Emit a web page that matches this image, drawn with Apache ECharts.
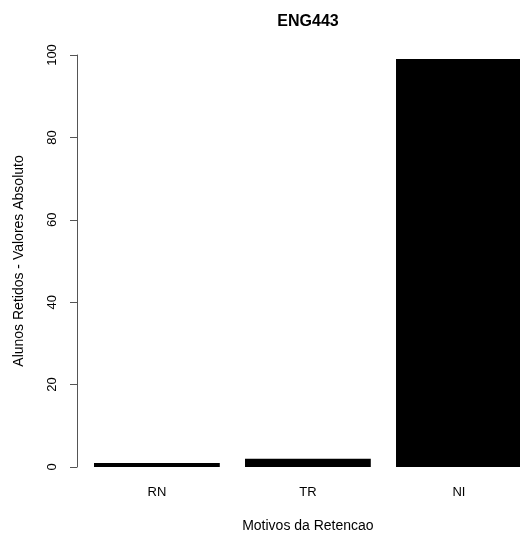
<!DOCTYPE html>
<html>
<head>
<meta charset="utf-8">
<script src="https://cdn.jsdelivr.net/npm/echarts@6/dist/echarts.min.js"></script>
<style>html,body{margin:0;padding:0;background:#fff;}#c{width:520px;height:533px;}</style>
</head>
<body>
<div id="c"></div>
<script>
const chartTitle = 'ENG443';
const categories = ['RN', 'TR', 'NI'];
const values = [1, 2, 99];
const yMin = 0, yMax = 100, yStep = 20;
const xName = 'Motivos da Retencao';
const yName = 'Alunos Retidos - Valores Absoluto';

const font = 'Liberation Sans, Arial, Helvetica, sans-serif';
const chart = echarts.init(document.getElementById('c'));
chart.setOption({
  animation: false,
  backgroundColor: '#ffffff',
  graphic: [{
    type: 'text', x: 308, y: 22,
    style: { text: chartTitle, font: 'bold 16px ' + font, fill: '#000', align: 'center', verticalAlign: 'middle' }
  }],
  grid: { left: 81.4, right: -14.4, top: 55, bottom: 66, containLabel: false, outerBoundsMode: 'none' },
  xAxis: {
    type: 'category', data: categories,
    axisLine: { show: false }, axisTick: { show: false },
    axisLabel: { color: '#000', fontSize: 13, fontFamily: font, margin: 19 },
    name: xName, nameLocation: 'middle', nameGap: 52,
    nameTextStyle: { color: '#000', fontSize: 14, fontFamily: font }
  },
  yAxis: {
    type: 'value', min: yMin, max: yMax, interval: yStep, offset: 4.4,
    axisLine: { show: true, lineStyle: { color: '#555', width: 1 } },
    axisTick: { show: true, length: 7, lineStyle: { color: '#555' } },
    splitLine: { show: false },
    axisLabel: { color: '#000', fontSize: 13, fontFamily: font, rotate: 90, margin: 18 },
    name: yName, nameLocation: 'middle', nameGap: 51,
    nameTextStyle: { color: '#000', fontSize: 14, fontFamily: font }
  },
  series: [{
    type: 'bar', data: values, barCategoryGap: '16.7%',
    itemStyle: { color: '#000' }
  }]
});
</script>
</body>
</html>
